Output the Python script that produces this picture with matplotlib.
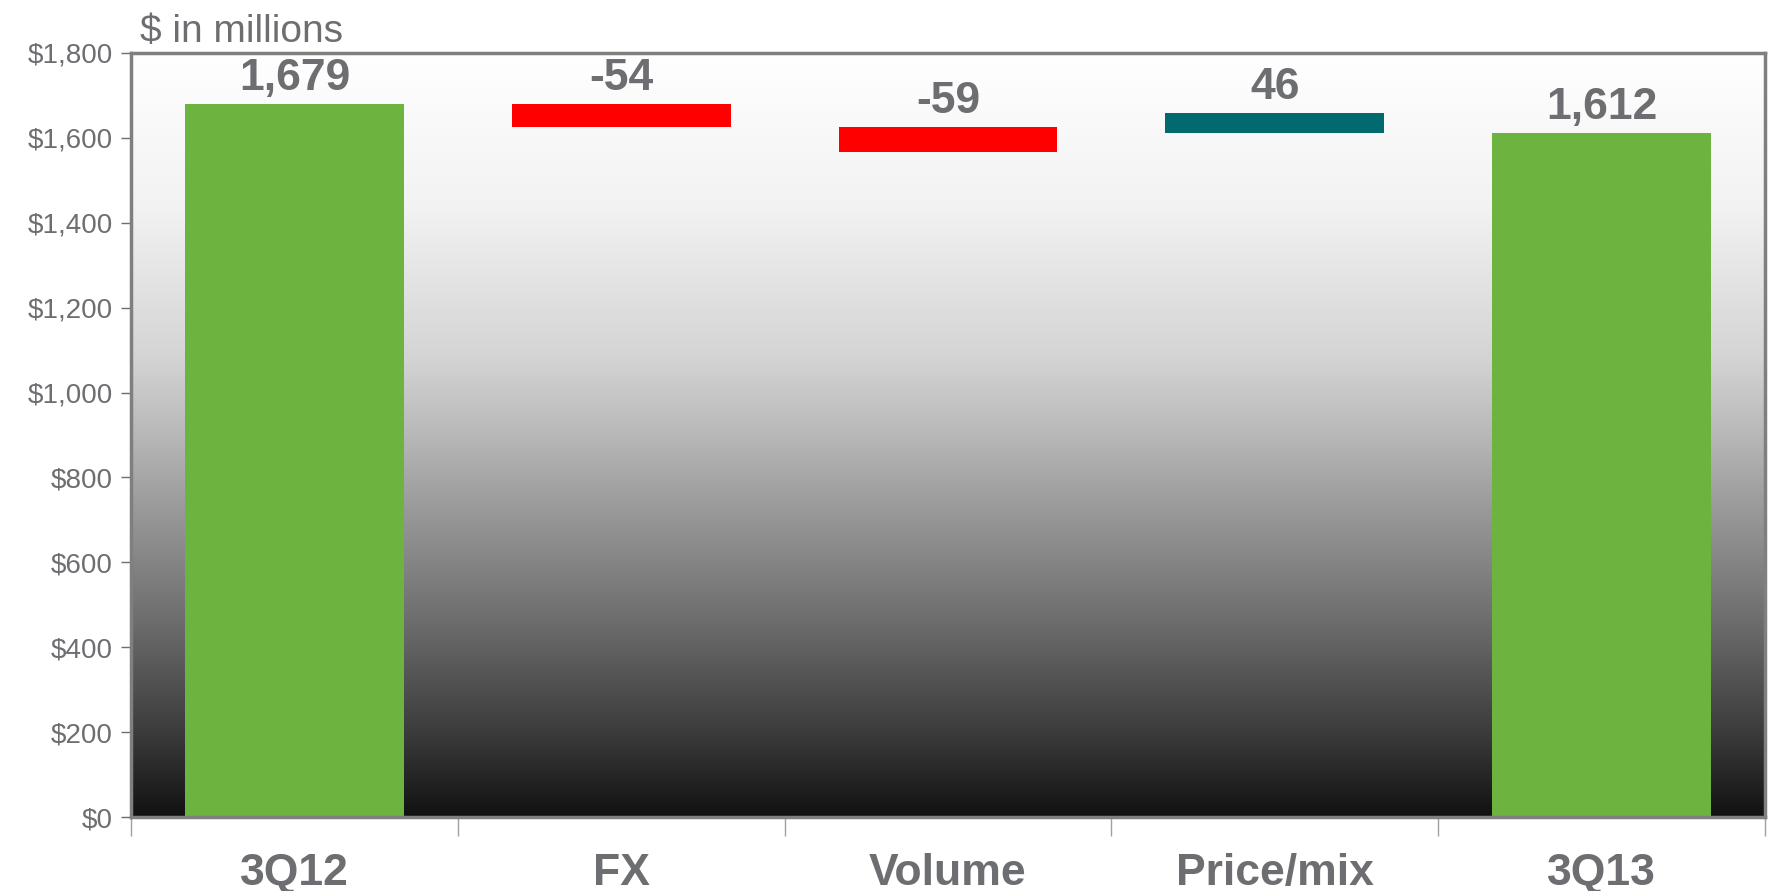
import matplotlib
matplotlib.use("Agg")
import matplotlib.pyplot as plt
import numpy as np
from matplotlib.colors import LinearSegmentedColormap

plt.rcParams['font.family'] = ['Liberation Sans', 'DejaVu Sans']

# data
categories = ['3Q12', 'FX', 'Volume', 'Price/mix', '3Q13']
start_value = 1679
deltas = [-54, -59, 46]
end_value = 1612
labels = ['1,679', '-54', '-59', '46', '1,612']
yticks = [0, 200, 400, 600, 800, 1000, 1200, 1400, 1600, 1800]
ytick_labels = ['$0', '$200', '$400', '$600', '$800', '$1,000', '$1,200', '$1,400', '$1,600', '$1,800']

# waterfall bases/heights (floating bars sit on the new running level)
bases = [0]
heights = [start_value]
running = start_value
for d in deltas:
    running = running + d
    bases.append(running)
    heights.append(abs(d))
bases.append(0)
heights.append(end_value)

green = '#6db33f'
red = '#ff0000'
teal = '#006a6e'
colors = [green] + [red if d < 0 else teal for d in deltas] + [green]
gray = '#6d6e71'

fig = plt.figure(figsize=(17.71, 8.91), dpi=100)
ax = fig.add_axes([131/1771, 1 - 817/891, (1765-131)/1771, (817-53)/891])

# gradient background white -> black
grad_cmap = LinearSegmentedColormap.from_list('bg', [
    (0.0, (0.07, 0.07, 0.07)),
    (0.1, (0.22, 0.22, 0.22)),
    (0.25, (0.42, 0.42, 0.42)),
    (0.4, (0.60, 0.60, 0.60)),
    (0.5, (0.72, 0.72, 0.72)),
    (0.6, (0.83, 0.83, 0.83)),
    (0.8, (0.95, 0.95, 0.95)),
    (1.0, (1.0, 1.0, 1.0)),
])
grad = np.linspace(0, 1, 256).reshape(-1, 1)
ax.imshow(grad, aspect='auto', cmap=grad_cmap, origin='lower',
          extent=[-0.5, 4.5, 0, 1800], zorder=0)

x = np.arange(len(categories))
ax.bar(x, heights, bottom=bases, width=0.67, color=colors, zorder=2)

for i in range(len(categories)):
    ax.text(x[i], bases[i] + heights[i] + 12, labels[i], ha='center', va='bottom',
            fontsize=32, fontweight='bold', color=gray, zorder=3)

ax.set_xlim(-0.5, 4.5)
ax.set_ylim(0, 1800)
ax.set_yticks(yticks)
ax.set_yticklabels(ytick_labels, fontsize=20, color=gray)
ax.tick_params(axis='y', length=7, width=1, color=gray, pad=6)

# category labels with ticks at the boundaries
ax.set_xticks(np.arange(-0.5, 5, 1.0))
ax.set_xticklabels([])
ax.set_xticks(x, minor=True)
ax.set_xticklabels(categories, minor=True, fontsize=32, fontweight='bold', color=gray)
ax.tick_params(axis='x', which='major', length=14, width=1, color='#a0a0a0')
ax.tick_params(axis='x', which='minor', length=0, pad=26)

for s in ax.spines.values():
    s.set_color('#7f7f7f')
    s.set_linewidth(2.5)

fig.text(140/1771, 1 - 42/891, '$ in millions', fontsize=28, color=gray,
         ha='left', va='baseline')

fig.savefig('out.png', dpi=100)
